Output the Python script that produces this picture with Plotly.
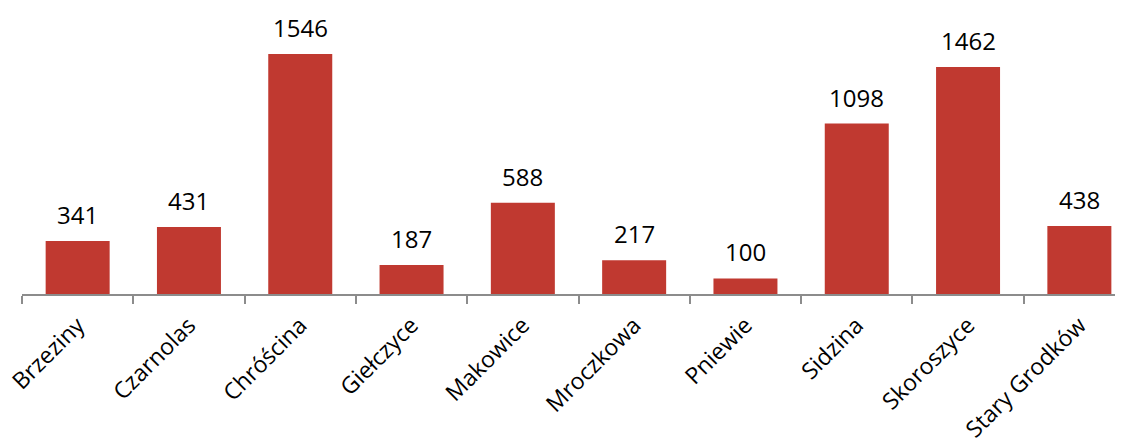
import plotly.graph_objects as go

categories = ["Brzeziny", "Czarnolas", "Chróścina", "Giełczyce", "Makowice",
              "Mroczkowa", "Pniewie", "Sidzina", "Skoroszyce", "Stary Grodków"]
values = [341, 431, 1546, 187, 588, 217, 100, 1098, 1462, 438]

BAR = "rgb(192,57,48)"
FONT = "Open Sans"

fig = go.Figure(go.Bar(x=categories, y=values, marker=dict(color=BAR, line=dict(width=0)),
                       width=0.575))

for c, v in zip(categories, values):
    fig.add_annotation(x=c, y=v, text=str(v), showarrow=False, yanchor="bottom",
                       yshift=8, font=dict(family=FONT, size=24, color="#000"))

fig.update_layout(
    width=1123, height=439,
    margin=dict(l=14, r=0, t=10, b=153),
    plot_bgcolor="white", paper_bgcolor="white",
    showlegend=False,
    xaxis=dict(type="category", range=[-0.5, 9.464], showline=True, linecolor="#8c8c8c",
               linewidth=1.5, ticks="outside", tickson="boundaries", ticklen=8,
               tickcolor="#8c8c8c", tickwidth=1.5, tickangle=-45, automargin=False,
               ticklabelstandoff=7,
               tickfont=dict(family=FONT, size=23, color="#000"), showgrid=False),
    yaxis=dict(range=[0, 1778], visible=False, showgrid=False, automargin=False),
    bargap=0.42,
)

fig.write_html("out.html")
